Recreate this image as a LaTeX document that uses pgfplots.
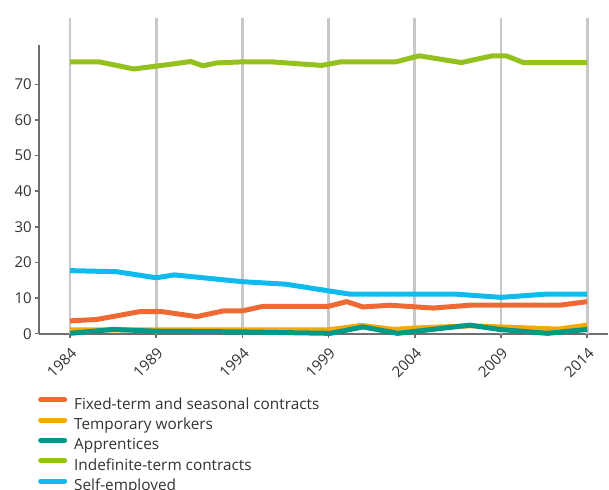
\documentclass[border=0pt]{standalone}
\usepackage{fontspec}
\setmainfont{Open Sans}
\usepackage{pgfplots}
\pgfplotsset{compat=1.18}
\definecolor{cOrange}{RGB}{238,106,50}
\definecolor{cYellow}{RGB}{250,168,0}
\definecolor{cTeal}{RGB}{0,154,135}
\definecolor{cGreen}{RGB}{149,193,31}
\definecolor{cBlue}{RGB}{15,186,238}
\definecolor{gridgray}{RGB}{200,200,200}
\definecolor{axisgray}{RGB}{109,110,113}
\definecolor{txt}{RGB}{50,50,50}
\begin{document}
\begin{tikzpicture}
\begin{axis}[
  scale only axis,
  width=568.6bp, height=288.6bp,
  xmin=1982.22, xmax=2015.2,
  ymin=0, ymax=81,
  clip=false,
  axis x line=bottom, axis y line=left,
  axis line style={-, draw=axisgray, line width=2bp},
  xtick={1984,1989,1994,1999,2004,2009,2014},
  ytick={0,10,20,30,40,50,60,70},
  x tick label style={/pgf/number format/1000 sep={}},
  /pgf/number format/assume math mode=true,
  xticklabel style={rotate=45, anchor=north east, font=\fontsize{15}{17}\selectfont, text=txt},
  xticklabel shift=4bp,
  yticklabel style={font=\fontsize{15}{17}\selectfont, text=txt},
  xtick style={draw=axisgray, line width=1.5bp},
  ytick style={draw=axisgray, line width=1.5bp},
  tick align=outside,
  major tick length=4bp,
  legend cell align=left,
  legend style={draw=none, fill=none, inner sep=0pt, outer sep=0pt,
    at={(axis description cs:-0.002,0)}, anchor=north west, yshift=-63.6bp,
    font=\fontsize{15.4}{17}\selectfont, text=txt,
    row sep=4.3bp,
    nodes={inner sep=0pt, text height=12bp, text depth=4bp}},
  /tikz/every odd column/.append style={column sep=7bp},
  legend image code/.code={\draw[#1, line cap=round] (2.5bp,5.5bp) -- (26.5bp,5.5bp);},
  every axis plot/.append style={line width=5bp, line join=round},
]
\coordinate (O) at (rel axis cs:0,0);
\draw[gridgray, line width=2.7bp] (axis cs:1984,0) -- (axis cs:1984,88.6);
\draw[gridgray, line width=2.7bp] (axis cs:1989,0) -- (axis cs:1989,88.6);
\draw[gridgray, line width=2.7bp] (axis cs:1994,0) -- (axis cs:1994,88.6);
\draw[gridgray, line width=2.7bp] (axis cs:1999,0) -- (axis cs:1999,88.6);
\draw[gridgray, line width=2.7bp] (axis cs:2004,0) -- (axis cs:2004,88.6);
\draw[gridgray, line width=2.7bp] (axis cs:2009,0) -- (axis cs:2009,88.6);
\draw[gridgray, line width=2.7bp] (axis cs:2014,0) -- (axis cs:2014,88.6);
% Fixed-term and seasonal contracts
\addplot[cOrange] coordinates {
(1984,3.6) (1985.55,4.0) (1988.06,6.2) (1989.32,6.2) (1991.35,4.8) (1992.9,6.4)
(1994.0,6.4) (1995.21,7.7) (1999.0,7.7) (2000.05,9.0) (2001.0,7.5) (2002.56,8.0)
(2005.07,7.2) (2007.2,8.0) (2012.42,8.0) (2014.0,9.0)};
\addlegendentry{Fixed-term and seasonal contracts}
% Temporary workers
\addplot[cYellow] coordinates {
(1984,1.1) (1999,1.1) (2000.9,2.3) (2002.8,1.2) (2004,1.6) (2007.2,2.2)
(2009,1.9) (2012.3,1.3) (2014,2.4)};
\addlegendentry{Temporary workers}
% Apprentices
\addplot[cTeal] coordinates {
(1984,0.1) (1986.5,1.2) (1989,0.7) (1994,0.5) (1999.1,0.1) (2001,1.9)
(2003,0.1) (2007.2,2.4) (2008.9,1.2) (2011.7,0.1) (2014,1.2)};
\addlegendentry{Apprentices}
% Indefinite-term contracts
\addplot[cGreen] coordinates {
(1984,76.3) (1985.7,76.3) (1987.7,74.3) (1989.8,75.6) (1991,76.4) (1991.7,75.2)
(1992.5,76.0) (1994,76.3) (1995.7,76.3) (1998.6,75.3) (1999.7,76.3) (2002.9,76.3)
(2004.25,78.0) (2006.7,76.1) (2008.5,78.0) (2009.3,78.0) (2010.3,76.1) (2014,76.1)};
\addlegendentry{Indefinite-term contracts}
% Self-employed
\addplot[cBlue] coordinates {
(1984,17.7) (1986.7,17.4) (1989,15.7) (1990.05,16.5) (1994,14.6) (1996.5,13.9)
(2000.24,11.1) (2006.4,11.1) (2009,10.2) (2011.6,11.1) (2014,11.1)};
\addlegendentry{Self-employed}
\end{axis}
\pgfresetboundingbox
\path[use as bounding box] ([shift={(-39.3bp,-156.3bp)}]O) rectangle ([shift={(569.7bp,333.7bp)}]O);
\end{tikzpicture}
\end{document}
